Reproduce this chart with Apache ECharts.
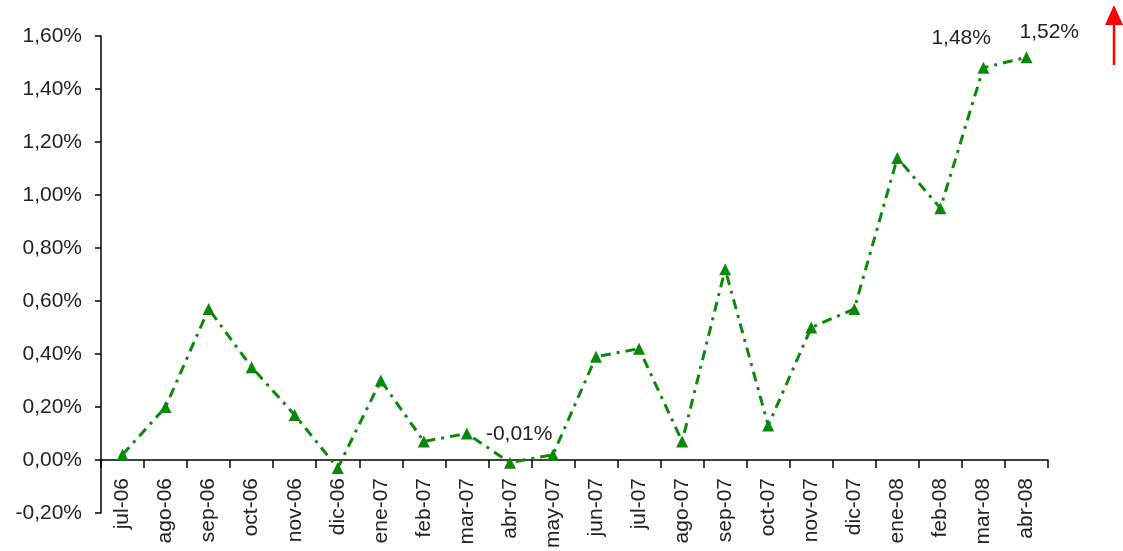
<!DOCTYPE html>
<html>
<head>
<meta charset="utf-8">
<script src="https://cdn.jsdelivr.net/npm/echarts@6/dist/echarts.min.js"></script>
<style>
  html, body { margin: 0; padding: 0; background: #fff; overflow: hidden; }
  #chart { width: 1123px; height: 551px; }
</style>
</head>
<body>
<div id="chart"></div>
<script>
// Monthly variation (%), jul-06 .. abr-08
const months = ['jul-06','ago-06','sep-06','oct-06','nov-06','dic-06','ene-07','feb-07','mar-07','abr-07','may-07','jun-07','jul-07','ago-07','sep-07','oct-07','nov-07','dic-07','ene-08','feb-08','mar-08','abr-08'];
const variation = [0.02, 0.20, 0.57, 0.35, 0.17, -0.03, 0.30, 0.07, 0.10, -0.01, 0.02, 0.39, 0.42, 0.07, 0.72, 0.13, 0.50, 0.57, 1.14, 0.95, 1.48, 1.52];
// Points that carry a value label, with the label offset from the marker
const labelled = {
  'abr-07': [-18, -33],
  'mar-08': [-46, -34],
  'abr-08': [-1, -29]
};

const fmt = v => v.toFixed(2).replace('.', ',') + '%';
const green = '#0b880b';
const textColor = '#222';
const font = '"Liberation Sans", Arial, sans-serif';
const fontSize = 21;

const seriesData = variation.map((v, i) => {
  const off = labelled[months[i]];
  if (!off) return v;
  return {
    value: v,
    label: {
      show: true,
      formatter: p => fmt(p.value),
      position: off,
      color: textColor,
      fontSize: fontSize,
      fontFamily: font
    }
  };
});

const chart = echarts.init(document.getElementById('chart'));
chart.setOption({
  animation: false,
  grid: { left: 101, right: 75, top: 36, bottom: 38, containLabel: false, outerBoundsMode: 'none' },
  xAxis: {
    type: 'category',
    data: months,
    boundaryGap: true,
    axisLine: { onZero: true, lineStyle: { color: '#000', width: 1.5 } },
    axisTick: { show: true, length: 8, lineStyle: { color: '#000', width: 1.5 } },
    // labels hang just under the zero line, inside the band down to -0,20%
    axisLabel: { rotate: 90, interval: 0, color: textColor, fontSize: fontSize, fontFamily: font, margin: -35 }
  },
  yAxis: {
    type: 'value',
    min: -0.2,
    max: 1.6,
    interval: 0.2,
    splitLine: { show: false },
    axisLine: { show: true, lineStyle: { color: '#000', width: 1.5 } },
    axisTick: { show: true, length: 6, lineStyle: { color: '#000', width: 1.5 } },
    axisLabel: { formatter: v => fmt(v), color: textColor, fontSize: fontSize, fontFamily: font, margin: 19 }
  },
  series: [{
    type: 'line',
    data: seriesData,
    symbol: 'triangle',
    symbolSize: 12,
    itemStyle: { color: green },
    lineStyle: { color: green, width: 3, type: [10, 6, 3, 6] }
  }],
  graphic: [
    { type: 'line', shape: { x1: 1114, y1: 65, x2: 1114, y2: 20 }, style: { stroke: '#ff0000', lineWidth: 2.5 } },
    { type: 'polygon', shape: { points: [[1114, 5], [1105, 25], [1123, 25]] }, style: { fill: '#ff0000' } }
  ]
});
</script>
</body>
</html>
